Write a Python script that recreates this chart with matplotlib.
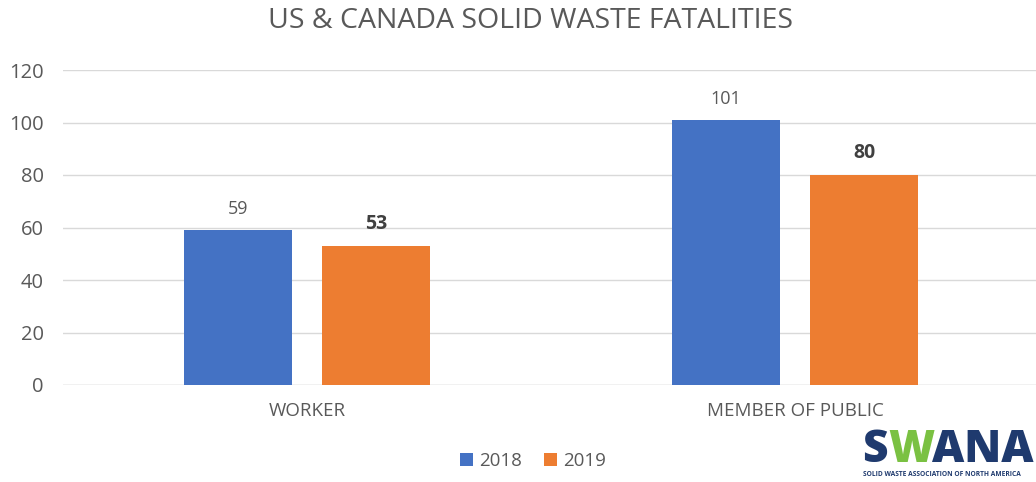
import matplotlib.pyplot as plt
import numpy as np

plt.rcParams['font.family'] = ['Open Sans', 'DejaVu Sans']

# Data
categories = ['WORKER', 'MEMBER OF PUBLIC']
years = ['2018', '2019']
values_2018 = [59, 101]
values_2019 = [53, 80]
yticks = [0, 20, 40, 60, 80, 100, 120]

blue = '#4472C4'
orange = '#ED7D31'
grey = '#595959'

fig = plt.figure(figsize=(10.36, 4.82), dpi=100)
ax = fig.add_axes([63/1036, 1 - 385/482, 976/1036, 315/482])

x = np.arange(len(categories))
w = 0.222
off = 0.1415
b1 = ax.bar(x - off, values_2018, w, color=blue, label=years[0], zorder=3)
b2 = ax.bar(x + off, values_2019, w, color=orange, label=years[1], zorder=3)

for r, v in zip(b1, values_2018):
    ax.text(r.get_x() + r.get_width()/2, v + 4.5, str(v), ha='center', va='bottom',
            fontsize=13, color=grey)
for r, v in zip(b2, values_2019):
    ax.text(r.get_x() + r.get_width()/2, v + 4.5, str(v), ha='center', va='bottom',
            fontsize=14, color='#404040', fontweight='bold')

ax.set_xlim(-0.5, 1.5)
ax.set_ylim(0, 120)
ax.set_yticks(yticks)
ax.set_xticks(x)
ax.set_xticklabels(categories)
ax.tick_params(axis='both', length=0, colors=grey)
ax.tick_params(axis='x', pad=12, labelsize=13.5)
ax.tick_params(axis='y', pad=14, labelsize=14.5)
ax.yaxis.grid(True, color='#d9d9d9', linewidth=1, zorder=0)
for s in ax.spines.values():
    s.set_visible(False)
ax.axhline(0, color='#d9d9d9', linewidth=1, zorder=2)

fig.text(530/1036, 1 - 21/482, 'US & CANADA SOLID WASTE FATALITIES', ha='center', va='center',
         fontsize=20.5, color=grey)

fig.legend(handles=[b1, b2], labels=years, loc='center', bbox_to_anchor=(533/1036, 1 - 461/482),
           ncol=2, frameon=False, fontsize=13.5, labelcolor=grey, handlelength=0.7,
           handleheight=0.7, handletextpad=0.3, columnspacing=1.2)

# SWANA logo (as text)
navy = '#1f3a6e'
green = '#7ac142'
ly = 1 - 450/482
fig.text(862/1036, ly, 'S', fontsize=32, fontweight='heavy', color=navy, va='center', ha='left')
fig.text(888/1036, ly, 'W', fontsize=32, fontweight='heavy', color=green, va='center', ha='left')
fig.text(932/1036, ly, 'ANA', fontsize=32, fontweight='heavy', color=navy, va='center', ha='left')
fig.text(863/1036, 1 - 475/482, 'SOLID WASTE ASSOCIATION OF NORTH AMERICA', fontsize=4.8,
         fontweight='bold', color=navy, va='center', ha='left')

fig.savefig('out.png', dpi=100)
